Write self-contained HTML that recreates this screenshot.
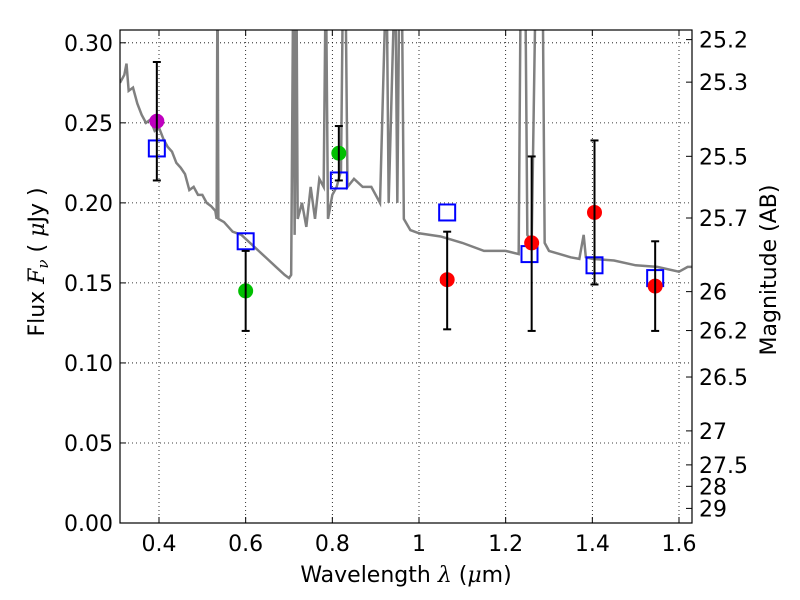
<!DOCTYPE html>
<html><head><meta charset="utf-8"><style>
body{margin:0;background:#fff;}
svg{display:block;font-family:"DejaVu Sans","Liberation Sans",sans-serif;}
</style></head><body>
<svg id="chart" width="800" height="600"></svg>
<script>
const xTicks=[0.4,0.6,0.8,1.0,1.2,1.4,1.6];
const xTickLabels=["0.4","0.6","0.8","1","1.2","1.4","1.6"];
const yTicks=[0,0.05,0.10,0.15,0.20,0.25,0.30];
const yTickLabels=["0.00","0.05","0.10","0.15","0.20","0.25","0.30"];
const magTicks=[25.2,25.3,25.5,25.7,26,26.2,26.5,27,27.5,28,29];
const specWl=[0.31,0.32,0.325,0.33,0.34,0.35,0.36,0.37,0.38,0.39,0.40,0.41,0.42,0.43,0.44,0.45,0.46,0.47,0.48,0.49,0.50,0.51,0.52,0.53,0.533,0.535,0.537,0.55,0.57,0.59,0.61,0.63,0.65,0.67,0.69,0.70,0.705,0.71,0.713,0.717,0.72,0.73,0.74,0.75,0.76,0.77,0.78,0.785,0.79,0.80,0.81,0.82,0.825,0.83,0.835,0.85,0.87,0.89,0.91,0.925,0.93,0.945,0.95,0.955,0.96,0.965,0.98,1.0,1.05,1.1,1.15,1.2,1.23,1.235,1.245,1.25,1.26,1.27,1.285,1.29,1.3,1.35,1.37,1.38,1.385,1.4,1.45,1.5,1.55,1.6,1.62,1.64];
const specFlux=[0.275,0.28,0.287,0.27,0.272,0.262,0.255,0.25,0.252,0.245,0.247,0.24,0.235,0.232,0.225,0.222,0.218,0.208,0.21,0.205,0.205,0.2,0.198,0.195,0.19,0.35,0.19,0.188,0.182,0.18,0.175,0.17,0.165,0.16,0.155,0.153,0.155,0.35,0.18,0.35,0.19,0.2,0.185,0.21,0.19,0.215,0.21,0.35,0.19,0.205,0.21,0.22,0.35,0.35,0.21,0.215,0.21,0.21,0.2,0.35,0.2,0.35,0.2,0.35,0.35,0.19,0.183,0.181,0.179,0.175,0.17,0.17,0.168,0.35,0.35,0.18,0.175,0.35,0.35,0.175,0.17,0.166,0.165,0.18,0.166,0.165,0.164,0.161,0.16,0.157,0.16,0.16];
const obsWl=[0.395,0.6,0.815,1.065,1.26,1.405,1.545];
const obsFlux=[0.251,0.145,0.231,0.152,0.175,0.194,0.148];
const obsLo=[0.214,0.12,0.214,0.121,0.12,0.149,0.12];
const obsHi=[0.288,0.17,0.248,0.182,0.229,0.239,0.176];
const obsColor=["#bf00bf","#00bf00","#00bf00","#ff0000","#ff0000","#ff0000","#ff0000"];
const modelWl=[0.395,0.6,0.815,1.065,1.255,1.405,1.545];
const modelFlux=[0.234,0.176,0.214,0.194,0.168,0.161,0.153];

const L=120,R=692,T=30,B=523;
const X0=0.31,X1=1.63,Y0=0,Y1=0.308;
const sx=v=>L+(v-X0)/(X1-X0)*(R-L);
const sy=v=>B-(v-Y0)/(Y1-Y0)*(B-T);
const svg=document.getElementById('chart');
const NS='http://www.w3.org/2000/svg';
function mk(tag,attrs,parent){const e=document.createElementNS(NS,tag);for(const k in attrs)e.setAttribute(k,attrs[k]);(parent||svg).appendChild(e);return e;}

const defs=mk('defs',{});
const cp=mk('clipPath',{id:'clip'},defs);
mk('rect',{x:L,y:T,width:R-L,height:B-T},cp);

xTicks.forEach((t,i)=>{
  const g=mk('line',{x1:sx(t),x2:sx(t),y1:T,y2:B,stroke:'#000','stroke-width':0.8,'stroke-dasharray':'1,3'});
  
  
  const tk=mk('line',{x1:sx(t),x2:sx(t),y1:B,y2:B-6,stroke:'#000'});
  
  
  mk('line',{x1:sx(t),x2:sx(t),y1:T,y2:T+6,stroke:'#000'});
  const tx=mk('text',{x:sx(t),y:B+28,'text-anchor':'middle','font-size':22});
  tx.textContent=xTickLabels[i];
  
  
});
yTicks.forEach((t,i)=>{
  const g=mk('line',{x1:L,x2:R,y1:sy(t),y2:sy(t),stroke:'#000','stroke-width':0.8,'stroke-dasharray':'1,3'});
  
  
  mk('line',{x1:L,x2:L+6,y1:sy(t),y2:sy(t),stroke:'#000'});
  const tx=mk('text',{x:L-7,y:sy(t)+8,'text-anchor':'end','font-size':22});
  tx.textContent=yTickLabels[i];
  
  
});
magTicks.forEach(m=>{
  const f=Math.pow(10,(23.9-m)/2.5);
  const y=sy(f);
  mk('line',{x1:R,x2:R-6,y1:y,y2:y,stroke:'#000'});
  const tx=mk('text',{x:R+7,y:y+8,'font-size':22});
  tx.textContent=String(m);
  
  
});

const spec=mk('polyline',{points:specWl.map((w,i)=>sx(w)+','+sy(specFlux[i])).join(' '),fill:'none',stroke:'#808080','stroke-width':2.5,'clip-path':'url(#clip)'});



modelWl.forEach((w,i)=>{
  const s=mk('rect',{x:sx(w)-8,y:sy(modelFlux[i])-8,width:16,height:16,fill:'none',stroke:'#0000ff','stroke-width':2});
  
  
});
obsWl.forEach((w,i)=>{
  const x=sx(w);
  const g=mk('g',{});
  
  
  mk('circle',{cx:x,cy:sy(obsFlux[i]),r:7.5,fill:obsColor[i]},g);
  mk('line',{x1:x,x2:x,y1:sy(obsLo[i]),y2:sy(obsHi[i]),stroke:'#000','stroke-width':2},g);
  mk('line',{x1:x-4,x2:x+4,y1:sy(obsLo[i]),y2:sy(obsLo[i]),stroke:'#000','stroke-width':2},g);
  mk('line',{x1:x-4,x2:x+4,y1:sy(obsHi[i]),y2:sy(obsHi[i]),stroke:'#000','stroke-width':2},g);
});

const fr=mk('rect',{x:L,y:T,width:R-L,height:B-T,fill:'none',stroke:'#000','stroke-width':1.2});



const xl=mk('text',{x:406,y:582,'text-anchor':'middle','font-size':22});
xl.innerHTML='Wavelength  <tspan font-style="italic" font-family="DejaVu Serif,serif">λ</tspan> (<tspan font-style="italic" font-family="DejaVu Serif,serif">μ</tspan>m)';


const yl=mk('text',{x:44,y:262,'text-anchor':'middle','font-size':22,transform:'rotate(-90 44 262)'});
yl.innerHTML='Flux  <tspan font-style="italic" font-family="DejaVu Serif,serif">F<tspan font-size="15" dy="4">ν</tspan></tspan><tspan dy="-4">  (  </tspan><tspan font-style="italic" font-family="DejaVu Serif,serif">μ</tspan>Jy )';


const rl=mk('text',{x:776,y:270,'text-anchor':'middle','font-size':22,transform:'rotate(-90 776 270)'});
rl.textContent='Magnitude (AB)';


</script>
</body></html>
